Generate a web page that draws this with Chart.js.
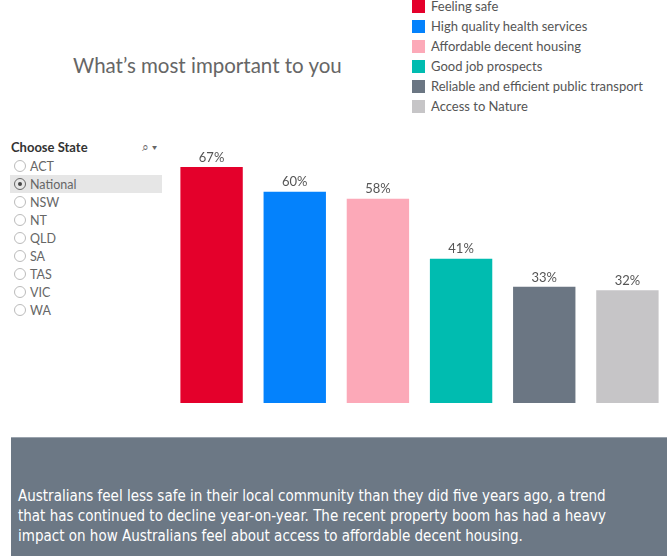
<!DOCTYPE html>
<html>
<head>
<meta charset="utf-8">
<title>What's most important to you</title>
<script src="https://cdn.jsdelivr.net/npm/chart.js@4.4.0/dist/chart.umd.min.js"></script>
<style>
  body { margin: 0; width: 669px; height: 556px; position: relative; background: #fff; font-family: Lato, "Open Sans", sans-serif; overflow: hidden; }
  #title { position: absolute; left: 73px; top: 53px; font-size: 20.5px; color: #666; }
  #legend { position: absolute; left: 412px; top: -4px; }
  .legItem { height: 20px; display: flex; align-items: center; font-size: 13px; color: #555; }
  .legItem span.sw { width: 13px; height: 13px; margin-right: 6px; display: inline-block; }
  #filter { position: absolute; left: 10px; top: 139px; width: 152px; }
  #filter h4 { margin: 0 0 2px 1px; font-size: 13px; color: #333; font-weight: bold; height: 16px; }
  #filter .icons { position: absolute; right: 5px; top: 0px; font-size: 12px; color: #666; }
  .radio { height: 18px; display: flex; align-items: center; font-size: 12.5px; color: #666; }
  .radio.sel { background: #e6e6e6; }
  .radio .c { width: 12px; height: 12px; border: 1px solid #bbb; border-radius: 50%; margin: 0 4px 0 4px; position: relative; box-sizing: border-box; }
  .radio.sel .c { border-color: #666; }
  .radio.sel .c::after { content: ""; position: absolute; left: 3px; top: 3px; width: 4px; height: 4px; border-radius: 50%; background: #444; }
  #chartBox { position: absolute; left: 170px; top: 140px; width: 499px; height: 263px; }
  #note { position: absolute; left: 11px; top: 437px; width: 656px; height: 119px; background: #6c7885; border-top: 1px solid #9aa3ad; box-sizing: border-box; }
  #note p { position: absolute; left: 7px; top: 48px; margin: 0; color: #fff; font-family: "Liberation Sans Narrow", "DejaVu Sans Condensed", sans-serif; font-stretch: condensed; font-size: 15px; line-height: 20px; width: 598px; }
</style>
</head>
<body>
<div id="title">What’s most important to you</div>
<div id="legend"></div>
<div id="filter">
  <h4>Choose State</h4>
  <div class="icons">&#x2315; &#x25BE;</div>
  <div id="radios"></div>
</div>
<div id="chartBox"><canvas id="myChart"></canvas></div>
<div id="note"><p>Australians feel less safe in their local community than they did five years ago, a trend that has continued to decline year-on-year. The recent property boom has had a heavy impact on how Australians feel about access to affordable decent housing.</p></div>
<script>
// data
const categories = ['Feeling safe', 'High quality health services', 'Affordable decent housing', 'Good job prospects', 'Reliable and efficient public transport', 'Access to Nature'];
const values = [67, 60, 58, 41, 33, 32];
const colors = ['#e4002b', '#0482fc', '#fca9b8', '#00bcb0', '#6b7683', '#c6c5c7'];
const states = ['ACT', 'National', 'NSW', 'NT', 'QLD', 'SA', 'TAS', 'VIC', 'WA'];
const selectedState = 'National';

// legend
const legend = document.getElementById('legend');
categories.forEach((c, i) => {
    legend.insertAdjacentHTML('beforeend', `<div class="legItem"><span class="sw" style="background:${colors[i]}"></span>${c}</div>`);
});

// state filter
const radios = document.getElementById('radios');
states.forEach(s => {
    radios.insertAdjacentHTML('beforeend', `<div class="radio${s == selectedState ? ' sel' : ''}"><span class="c"></span>${s}</div>`);
});

// value labels above bars
const barLabels = {
    id: 'barLabels',
    afterDatasetsDraw(chart) {
        const ctx = chart.ctx;
        const meta = chart.getDatasetMeta(0);
        ctx.save();
        ctx.font = '13px Lato, "Open Sans", sans-serif';
        ctx.fillStyle = '#555';
        ctx.textAlign = 'center';
        ctx.textBaseline = 'bottom';
        meta.data.forEach((bar, i) => {
            ctx.fillText(values[i] + '%', bar.x, bar.y - 3);
        });
        ctx.restore();
    }
};

let ctx = document.getElementById('myChart').getContext('2d');
let chart = new Chart(ctx, {
    type: 'bar',
    data: {
        labels: categories,
        datasets: [{
            data: values,
            backgroundColor: colors,
            borderWidth: 0,
            categoryPercentage: 1,
            barPercentage: 0.75
        }]
    },
    options: {
        responsive: true,
        maintainAspectRatio: false,
        animation: false,
        layout: { padding: 0 },
        plugins: { legend: { display: false }, tooltip: { enabled: false } },
        scales: {
            x: { display: false },
            y: { display: false, min: 0, max: 74.7 }
        }
    },
    plugins: [barLabels]
});
</script>
</body>
</html>
